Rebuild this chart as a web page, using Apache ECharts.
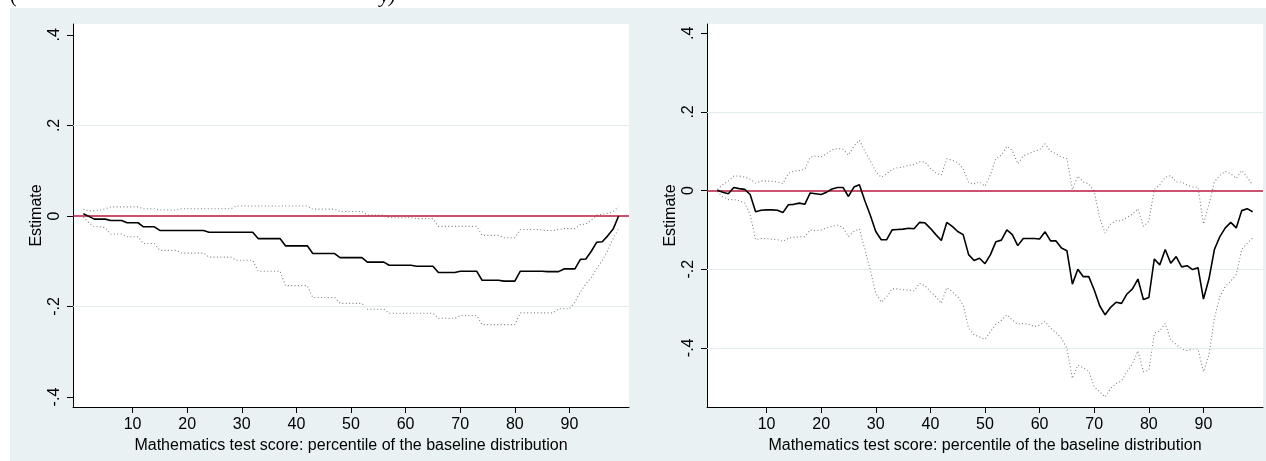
<!DOCTYPE html>
<html>
<head>
<meta charset="utf-8">
<script src="https://cdn.jsdelivr.net/npm/echarts@6/dist/echarts.min.js"></script>
<style>
html,body{margin:0;padding:0;background:#ffffff;}
#chart{width:1266px;height:461px;}
</style>
</head>
<body>
<div id="chart"></div>
<script>
// ---- data ----
const percentiles = [1,2,3,4,5,6,7,8,9,10,11,12,13,14,15,16,17,18,19,20,21,22,23,24,25,26,27,28,29,30,31,32,33,34,35,36,37,38,39,40,41,42,43,44,45,46,47,48,49,50,51,52,53,54,55,56,57,58,59,60,61,62,63,64,65,66,67,68,69,70,71,72,73,74,75,76,77,78,79,80,81,82,83,84,85,86,87,88,89,90,91,92,93,94,95,96,97,98,99];

const estLeft = [0.005,-0.001,-0.007,-0.007,-0.007,-0.010,-0.010,-0.010,-0.015,-0.015,
 -0.015,-0.024,-0.024,-0.024,-0.032,-0.032,-0.032,-0.032,-0.032,-0.032,
 -0.032,-0.032,-0.032,-0.036,-0.036,-0.036,-0.036,-0.036,-0.036,-0.036,
 -0.036,-0.036,-0.050,-0.050,-0.050,-0.050,-0.050,-0.066,-0.066,-0.066,
 -0.066,-0.066,-0.083,-0.083,-0.083,-0.083,-0.083,-0.092,-0.092,-0.092,
 -0.092,-0.092,-0.102,-0.102,-0.102,-0.102,-0.109,-0.109,-0.109,-0.109,
 -0.109,-0.111,-0.111,-0.111,-0.111,-0.125,-0.125,-0.125,-0.125,-0.122,
 -0.122,-0.122,-0.122,-0.142,-0.142,-0.142,-0.142,-0.144,-0.144,-0.144,
 -0.122,-0.122,-0.122,-0.122,-0.122,-0.123,-0.123,-0.123,-0.117,-0.117,
 -0.117,-0.096,-0.095,-0.078,-0.058,-0.057,-0.044,-0.029,0.000];
const upLeft = [0.015,0.011,0.012,0.013,0.016,0.020,0.020,0.020,0.020,0.020,
 0.020,0.016,0.016,0.016,0.013,0.013,0.013,0.013,0.016,0.016,
 0.016,0.016,0.016,0.016,0.016,0.016,0.016,0.016,0.022,0.022,
 0.022,0.022,0.022,0.022,0.022,0.022,0.022,0.022,0.022,0.022,
 0.022,0.022,0.015,0.015,0.015,0.015,0.015,0.010,0.010,0.010,
 0.010,0.010,0.002,0.002,0.002,0.002,-0.004,-0.004,-0.004,-0.004,
 -0.004,-0.006,-0.006,-0.006,-0.006,-0.023,-0.023,-0.023,-0.023,-0.023,
 -0.023,-0.023,-0.023,-0.043,-0.043,-0.043,-0.043,-0.048,-0.048,-0.048,
 -0.030,-0.030,-0.030,-0.030,-0.031,-0.032,-0.032,-0.030,-0.028,-0.028,
 -0.028,-0.019,-0.018,-0.009,0.002,0.004,0.006,0.010,0.020];
const loLeft = [-0.002,-0.015,-0.024,-0.024,-0.026,-0.040,-0.040,-0.040,-0.046,-0.046,
 -0.046,-0.061,-0.061,-0.061,-0.076,-0.076,-0.076,-0.076,-0.082,-0.082,
 -0.082,-0.082,-0.082,-0.091,-0.091,-0.091,-0.091,-0.091,-0.098,-0.098,
 -0.098,-0.098,-0.122,-0.122,-0.122,-0.122,-0.122,-0.154,-0.154,-0.154,
 -0.154,-0.154,-0.180,-0.180,-0.180,-0.180,-0.180,-0.193,-0.193,-0.193,
 -0.193,-0.193,-0.206,-0.206,-0.206,-0.206,-0.215,-0.215,-0.215,-0.215,
 -0.215,-0.215,-0.215,-0.215,-0.215,-0.226,-0.226,-0.226,-0.226,-0.220,
 -0.220,-0.220,-0.220,-0.240,-0.240,-0.240,-0.240,-0.240,-0.240,-0.240,
 -0.214,-0.214,-0.214,-0.214,-0.214,-0.214,-0.214,-0.205,-0.205,-0.205,
 -0.190,-0.168,-0.150,-0.136,-0.116,-0.098,-0.076,-0.050,-0.028];

const estRight = [0.001,-0.004,-0.008,0.008,0.005,0.003,-0.010,-0.054,-0.050,-0.049,
 -0.049,-0.050,-0.056,-0.036,-0.035,-0.032,-0.035,-0.006,-0.008,-0.010,
 -0.004,0.004,0.008,0.008,-0.015,0.009,0.015,-0.026,-0.063,-0.104,
 -0.125,-0.125,-0.100,-0.099,-0.098,-0.096,-0.097,-0.081,-0.082,-0.096,
 -0.112,-0.127,-0.081,-0.091,-0.104,-0.112,-0.163,-0.178,-0.172,-0.186,
 -0.163,-0.130,-0.126,-0.100,-0.112,-0.140,-0.122,-0.122,-0.122,-0.123,
 -0.105,-0.128,-0.128,-0.146,-0.153,-0.238,-0.200,-0.219,-0.219,-0.253,
 -0.293,-0.316,-0.297,-0.284,-0.287,-0.263,-0.250,-0.225,-0.277,-0.272,
 -0.174,-0.189,-0.150,-0.185,-0.168,-0.194,-0.191,-0.201,-0.196,-0.276,
 -0.225,-0.150,-0.117,-0.095,-0.081,-0.095,-0.051,-0.046,-0.054];
const upRight = [0.003,0.015,0.024,0.037,0.037,0.034,0.029,0.019,0.024,0.024,
 0.024,0.022,0.018,0.044,0.049,0.051,0.054,0.085,0.088,0.085,
 0.094,0.104,0.107,0.105,0.090,0.113,0.128,0.100,0.075,0.048,
 0.034,0.043,0.054,0.058,0.060,0.064,0.066,0.073,0.073,0.056,
 0.045,0.039,0.081,0.077,0.071,0.056,0.020,0.017,0.022,0.011,
 0.041,0.082,0.090,0.113,0.102,0.068,0.088,0.094,0.100,0.104,
 0.119,0.100,0.094,0.085,0.081,0.003,0.037,0.022,0.017,-0.002,
 -0.070,-0.108,-0.085,-0.077,-0.077,-0.068,-0.060,-0.046,-0.091,-0.078,
 0.003,0.015,0.034,0.038,0.022,0.022,0.014,0.009,0.009,-0.085,
 -0.036,0.022,0.039,0.049,0.043,0.031,0.051,0.034,0.014];
const loRight = [-0.002,-0.017,-0.023,-0.023,-0.026,-0.031,-0.061,-0.125,-0.122,-0.122,
 -0.124,-0.125,-0.129,-0.121,-0.119,-0.118,-0.117,-0.100,-0.102,-0.100,
 -0.095,-0.091,-0.088,-0.094,-0.117,-0.104,-0.097,-0.150,-0.202,-0.261,
 -0.284,-0.270,-0.250,-0.250,-0.252,-0.253,-0.255,-0.236,-0.242,-0.257,
 -0.270,-0.287,-0.247,-0.257,-0.270,-0.291,-0.350,-0.367,-0.372,-0.378,
 -0.359,-0.340,-0.330,-0.316,-0.329,-0.340,-0.338,-0.340,-0.346,-0.342,
 -0.333,-0.350,-0.361,-0.376,-0.401,-0.478,-0.444,-0.451,-0.459,-0.499,
 -0.512,-0.525,-0.503,-0.491,-0.484,-0.461,-0.440,-0.408,-0.461,-0.457,
 -0.363,-0.357,-0.338,-0.380,-0.391,-0.403,-0.407,-0.403,-0.403,-0.461,
 -0.418,-0.325,-0.270,-0.244,-0.230,-0.214,-0.150,-0.134,-0.121];

const xTickValues = [10,20,30,40,50,60,70,80,90];
const yTickValues = [-0.4,-0.2,0,0.2,0.4];
const yTickLabels = ['-.4','-.2','0','.2','.4'];
const gridValuesLeft = [0.2,-0.2];
const gridValuesRight = [0.2,-0.2,-0.4];
const xTitle = 'Mathematics test score: percentile of the baseline distribution';
const yTitle = 'Estimate';
const captionLeft = '(';
const captionRight = 'y)';

// ---- chart ----
const FONT = '"Liberation Sans", Arial, Helvetica, sans-serif';
const SERIF = '"Liberation Serif", "Times New Roman", serif';
const BG = '#e9f1f3';
const GRIDC = '#e2ebee';
const REDC = '#b8173f';

function pairs(ys){ return percentiles.map((x,i)=>[x, ys[i]]); }
function fmtY(v){
  for (let i=0;i<yTickValues.length;i++){ if (Math.abs(v-yTickValues[i])<1e-9) return yTickLabels[i]; }
  return '';
}

const grids = [
  {left:73, top:24, width:556, height:383, show:true, backgroundColor:'#ffffff', borderWidth:0},
  {left:707, top:24, width:556, height:383, show:true, backgroundColor:'#ffffff', borderWidth:0}
];
const yRanges = [[-0.422,0.424],[-0.5505,0.4237]];

const xAxes = [0,1].map(i=>({
  type:'value', gridIndex:i, min:-0.9, max:100.9,
  name: xTitle, nameLocation:'middle', nameGap:24,
  nameTextStyle:{fontFamily:FONT, fontSize:16, color:'#000'},
  axisLine:{show:true, onZero:false, lineStyle:{color:'#000', width:1}},
  axisTick:{show:true, length:6, customValues:xTickValues, lineStyle:{color:'#000'}},
  axisLabel:{show:true, customValues:xTickValues, margin:10, fontFamily:FONT, fontSize:16, color:'#000'},
  splitLine:{show:false}
}));
const yAxes = [0,1].map(i=>({
  type:'value', gridIndex:i, min:yRanges[i][0], max:yRanges[i][1],
  name: yTitle, nameLocation:'middle', nameGap:28,
  nameTextStyle:{fontFamily:FONT, fontSize:16, color:'#000'},
  axisLine:{show:true, onZero:false, lineStyle:{color:'#000', width:1}},
  axisTick:{show:true, length:6, customValues:yTickValues, lineStyle:{color:'#000'}},
  axisLabel:{show:true, customValues:yTickValues, rotate:90, margin:10, fontFamily:FONT, fontSize:16, color:'#000', formatter:fmtY},
  splitLine:{show:false}
}));

function panelSeries(i, est, up, lo, gv){
  return [
    {type:'line', xAxisIndex:i, yAxisIndex:i, data:[], silent:true, z:1,
     markLine:{silent:true, symbol:['none','none'], label:{show:false},
       lineStyle:{color:GRIDC, width:1.2, type:'solid'},
       data: gv.map(v=>({yAxis:v}))}},
    {type:'line', xAxisIndex:i, yAxisIndex:i, data:pairs(up), showSymbol:false, silent:true, z:3,
     lineStyle:{color:'#7f7f7f', width:1.1, type:[1,2.4]}},
    {type:'line', xAxisIndex:i, yAxisIndex:i, data:pairs(lo), showSymbol:false, silent:true, z:3,
     lineStyle:{color:'#7f7f7f', width:1.1, type:[1,2.4]}},
    {type:'line', xAxisIndex:i, yAxisIndex:i, data:[], silent:true, z:4,
     markLine:{silent:true, symbol:['none','none'], label:{show:false},
       lineStyle:{color:REDC, width:1.6, type:'solid'},
       data:[{yAxis:0}]}},
    {type:'line', xAxisIndex:i, yAxisIndex:i, data:pairs(est), showSymbol:false, silent:true, z:5,
     lineStyle:{color:'#000', width:1.6}}
  ];
}

const chart = echarts.init(document.getElementById('chart'), null, {renderer:'canvas'});
chart.setOption({
  animation:false,
  backgroundColor:'#ffffff',
  graphic:[
    {type:'text', z:-10, x:10, y:7, silent:true,
     style:{text:captionLeft, font:'20px ' + SERIF, fill:'#000', verticalAlign:'bottom'}},
    {type:'text', z:-10, x:380, y:7, silent:true,
     style:{text:captionRight, font:'italic 20px ' + SERIF, fill:'#000', verticalAlign:'bottom'}},
    {type:'rect', z:-5, shape:{x:10, y:8, width:1256, height:453}, style:{fill:BG}, silent:true}
  ],
  grid: grids,
  xAxis: xAxes,
  yAxis: yAxes,
  series: [].concat(
    panelSeries(0, estLeft, upLeft, loLeft, gridValuesLeft),
    panelSeries(1, estRight, upRight, loRight, gridValuesRight)
  )
});
</script>
</body>
</html>
